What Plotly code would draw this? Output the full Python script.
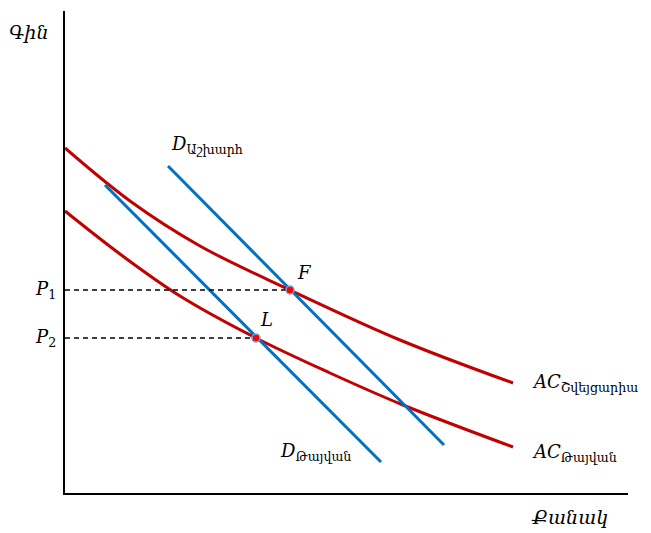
import plotly.graph_objects as go

# Data (x: quantity units, y: price units)
ac_swiss_x = [0, 65, 135, 225, 335, 448]
ac_swiss_y = [345, 292, 247, 203, 153, 110]
ac_taiwan_x = [0, 55, 115, 191, 265, 338, 448]
ac_taiwan_y = [282, 239, 197, 155, 120, 88, 46]
d_world_x = [103, 379]
d_world_y = [327, 48]
d_taiwan_x = [40, 316]
d_taiwan_y = [308, 31]
eq_names = ["F", "L"]
eq_x = [225, 191]
eq_y = [203, 155]
p_subs = ["1", "2"]

red = "#c00000"
blue = "#0070c0"
serif = "DejaVu Serif"

XMAX, YMAX = 563, 482

fig = go.Figure()
fig.add_trace(go.Scatter(x=ac_swiss_x, y=ac_swiss_y, mode="lines",
                         line=dict(color=red, width=3, shape="spline", smoothing=1.0)))
fig.add_trace(go.Scatter(x=ac_taiwan_x, y=ac_taiwan_y, mode="lines",
                         line=dict(color=red, width=3, shape="spline", smoothing=1.0)))
fig.add_trace(go.Scatter(x=d_world_x, y=d_world_y, mode="lines",
                         line=dict(color=blue, width=3)))
fig.add_trace(go.Scatter(x=d_taiwan_x, y=d_taiwan_y, mode="lines",
                         line=dict(color=blue, width=3)))
for px, py in zip(eq_x, eq_y):
    fig.add_trace(go.Scatter(x=[0, px], y=[py, py], mode="lines",
                             line=dict(color="black", width=1.4, dash="5px,4px")))
fig.add_trace(go.Scatter(x=eq_x, y=eq_y, mode="markers",
                         marker=dict(color="#ff0000", size=8,
                                     line=dict(color="#6fa8dc", width=1.5))))

font = dict(family=serif, size=18, color="black")
# equilibrium letters
fig.add_annotation(x=eq_x[0] + 5, y=eq_y[0] + 5, text="<i>F</i>", xanchor="left", yanchor="bottom")
fig.add_annotation(x=eq_x[1] + 2, y=eq_y[1] + 6, text="<i>L</i>", xanchor="left", yanchor="bottom")
# curve labels
fig.add_annotation(x=104, y=348, text="<i>D</i><sub>Աշխարհ</sub>", xanchor="left", yanchor="middle")
fig.add_annotation(x=213, y=41, text="<i>D</i><sub>Թայվան</sub>", xanchor="left", yanchor="middle")
fig.add_annotation(x=465, y=110, text="<i>AC</i><sub>Շվեյցարիա</sub>", xanchor="left", yanchor="middle")
fig.add_annotation(x=465, y=40, text="<i>AC</i><sub>Թայվան</sub>", xanchor="left", yanchor="middle")
fig.update_annotations(xref="x", yref="y", showarrow=False, font=font)

# price labels (outside the axis range -> paper coordinates)
for sub, py in zip(p_subs, eq_y):
    fig.add_annotation(xref="paper", yref="paper", x=-7 / XMAX, y=py / YMAX,
                       text="<i>P</i><sub>" + sub + "</sub>", showarrow=False,
                       xanchor="right", yanchor="middle", font=font)

fig.add_annotation(xref="paper", yref="paper", x=-0.064, y=0.956, text="<i>Գին</i>",
                   showarrow=False, xanchor="center", yanchor="middle",
                   font=dict(family=serif, size=19, color="black"))
fig.add_annotation(xref="paper", yref="paper", x=0.968, y=-0.05, text="<i>Քանակ</i>",
                   showarrow=False, xanchor="right", yanchor="middle",
                   font=dict(family=serif, size=19, color="black"))

fig.update_layout(
    width=643, height=525,
    margin=dict(l=57, r=23, t=3, b=40),
    plot_bgcolor="white", paper_bgcolor="white",
    showlegend=False,
)
fig.update_xaxes(range=[0, XMAX], showgrid=False, zeroline=False, showticklabels=False,
                 ticks="", showline=True, linecolor="black", linewidth=2)
fig.update_yaxes(range=[0, YMAX], showgrid=False, zeroline=False, showticklabels=False,
                 ticks="", showline=True, linecolor="black", linewidth=2)

fig.write_html("out.html")
